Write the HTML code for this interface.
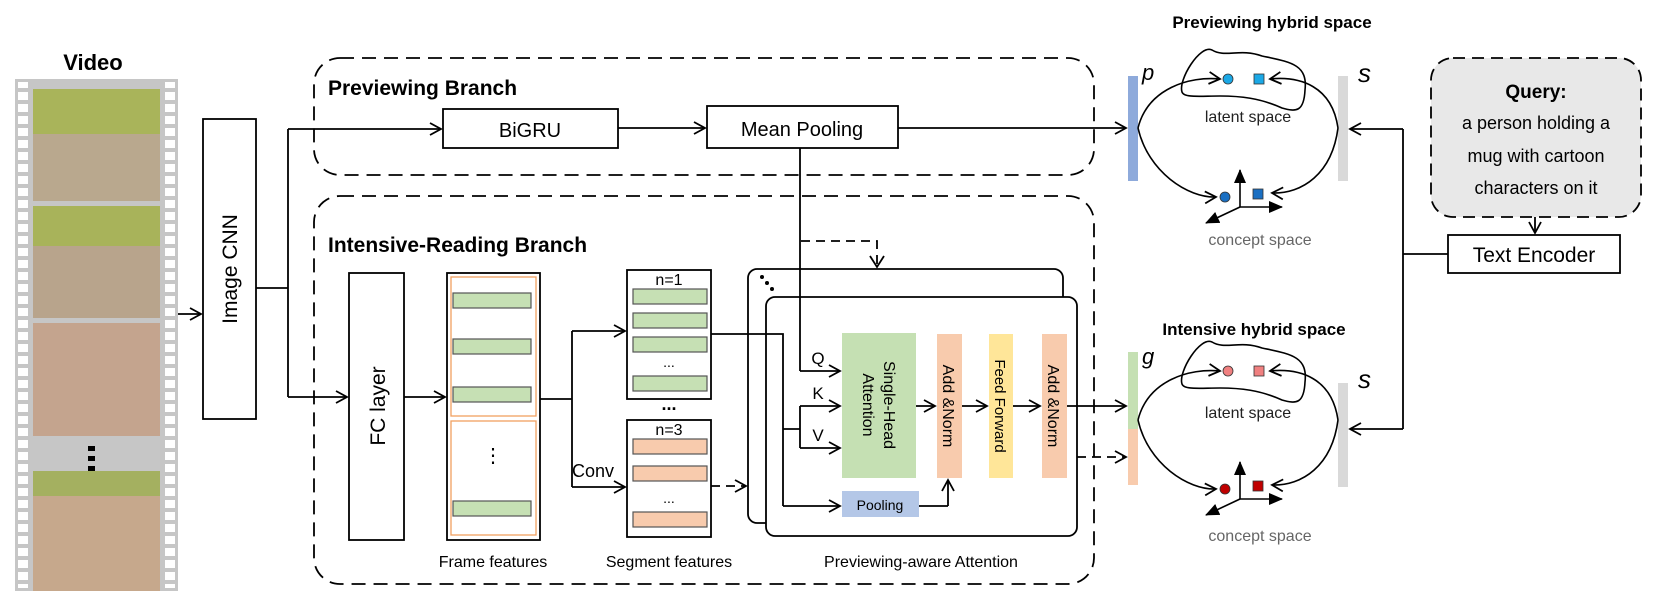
<!DOCTYPE html>
<html><head><meta charset="utf-8"><style>
html,body{margin:0;padding:0;background:#fff;}
svg{display:block;font-family:"Liberation Sans",Arial,sans-serif;}
</style></head><body>
<svg width="1660" height="607" viewBox="0 0 1660 607" xmlns="http://www.w3.org/2000/svg">
<defs>
<marker id="a" markerWidth="14" markerHeight="14" refX="12" refY="7" orient="auto" markerUnits="userSpaceOnUse"><path d="M1,1 L12,7 L1,13" fill="none" stroke="#000" stroke-width="1.8"/></marker>
<marker id="t" markerWidth="16" markerHeight="16" refX="13" refY="8" orient="auto" markerUnits="userSpaceOnUse"><path d="M0,2 L14,8 L0,14 Z" fill="#000"/></marker>
</defs>
<rect x="15" y="79" width="163" height="512" fill="#c6c6c6"/>
<rect x="18" y="82" width="10" height="506" fill="#fff"/>
<rect x="165" y="82" width="10" height="506" fill="#fff"/>
<g stroke="#c6c6c6" stroke-width="4">
<path d="M16,90 H30 M16,102 H30 M16,114 H30 M16,126 H30 M16,138 H30 M16,150 H30 M16,162 H30 M16,174 H30 M16,186 H30 M16,198 H30 M16,210 H30 M16,222 H30 M16,234 H30 M16,246 H30 M16,258 H30 M16,270 H30 M16,282 H30 M16,294 H30 M16,306 H30 M16,318 H30 M16,330 H30 M16,342 H30 M16,354 H30 M16,366 H30 M16,378 H30 M16,390 H30 M16,402 H30 M16,414 H30 M16,426 H30 M16,438 H30 M16,450 H30 M16,462 H30 M16,474 H30 M16,486 H30 M16,498 H30 M16,510 H30 M16,522 H30 M16,534 H30 M16,546 H30 M16,558 H30 M16,570 H30 M16,582 H30"/>
<path d="M163,90 H177 M163,102 H177 M163,114 H177 M163,126 H177 M163,138 H177 M163,150 H177 M163,162 H177 M163,174 H177 M163,186 H177 M163,198 H177 M163,210 H177 M163,222 H177 M163,234 H177 M163,246 H177 M163,258 H177 M163,270 H177 M163,282 H177 M163,294 H177 M163,306 H177 M163,318 H177 M163,330 H177 M163,342 H177 M163,354 H177 M163,366 H177 M163,378 H177 M163,390 H177 M163,402 H177 M163,414 H177 M163,426 H177 M163,438 H177 M163,450 H177 M163,462 H177 M163,474 H177 M163,486 H177 M163,498 H177 M163,510 H177 M163,522 H177 M163,534 H177 M163,546 H177 M163,558 H177 M163,570 H177 M163,582 H177"/>
</g>
<rect x="33" y="89" width="127" height="112" fill="#b9a88e"/>
<rect x="33" y="89" width="127" height="45" fill="#a9b45a"/>
<rect x="33" y="206" width="127" height="112" fill="#b8a48c"/>
<rect x="33" y="206" width="127" height="40" fill="#a8b35a"/>
<rect x="33" y="323" width="127" height="113" fill="#c4a48e"/>
<rect x="33" y="471" width="127" height="120" fill="#c6a88c"/>
<rect x="33" y="471" width="127" height="25" fill="#a4b060"/>
<g fill="#000"><rect x="88" y="446" width="7" height="5"/><rect x="88" y="456" width="7" height="5"/><rect x="88" y="466" width="7" height="5"/></g>
<text x="93" y="70" font-size="22" font-weight="bold" text-anchor="middle">Video</text>

<g stroke="#000" stroke-width="1.8" fill="none">
<rect x="203" y="119" width="53" height="300" fill="#fff"/>
<line x1="178" y1="314" x2="201" y2="314" marker-end="url(#a)"/>
<path d="M256,288 H288 M288,129 V397"/>
<line x1="288" y1="129" x2="441" y2="129" marker-end="url(#a)"/>
<line x1="288" y1="397" x2="347" y2="397" marker-end="url(#a)"/>
<rect x="314" y="58" width="780" height="117" rx="26" stroke-dasharray="14,8"/>
<rect x="314" y="196" width="780" height="388" rx="26" stroke-dasharray="14,8"/>
<rect x="443" y="109" width="175" height="39" fill="#fff"/>
<rect x="707" y="106" width="191" height="42" fill="#fff"/>
<line x1="618" y1="128" x2="705" y2="128" marker-end="url(#a)"/>
<line x1="898" y1="128" x2="1126" y2="128" marker-end="url(#a)"/>
<path d="M801,241 H877 V266" stroke-dasharray="9,6"/>
<path d="M870,256 L877,267 L884,256"/>
<rect x="349" y="273" width="55" height="267" fill="#fff"/>
<line x1="404" y1="397" x2="445" y2="397" marker-end="url(#a)"/>
<rect x="447" y="273" width="93" height="267" fill="#fff"/>
<rect x="451" y="277" width="85" height="139" stroke="#f0a060" stroke-width="1.3"/>
<rect x="451" y="421" width="85" height="114" stroke="#f0a060" stroke-width="1.3"/>
<g fill="#c6e0b4" stroke="#555" stroke-width="1.2">
<rect x="453" y="293" width="78" height="15"/><rect x="453" y="339" width="78" height="15"/><rect x="453" y="387" width="78" height="15"/><rect x="453" y="501" width="78" height="15"/>
</g>
<path d="M540,399 H572 M572,331 V487"/>
<line x1="572" y1="331" x2="625" y2="331" marker-end="url(#a)"/>
<line x1="572" y1="487" x2="625" y2="487" marker-end="url(#a)"/>
<rect x="627" y="270" width="84" height="129" fill="#fff"/>
<rect x="627" y="420" width="84" height="117" fill="#fff"/>
<g fill="#c6e0b4" stroke="#555" stroke-width="1.2">
<rect x="633" y="289" width="74" height="15"/><rect x="633" y="313" width="74" height="15"/><rect x="633" y="337" width="74" height="15"/><rect x="633" y="376" width="74" height="15"/>
</g>
<g fill="#f8cbad" stroke="#555" stroke-width="1.2">
<rect x="633" y="439" width="74" height="15"/><rect x="633" y="466" width="74" height="15"/><rect x="633" y="512" width="74" height="15"/>
</g>
<rect x="748" y="269" width="315" height="254" rx="9" fill="#fff"/>
<rect x="766" y="297" width="311" height="239" rx="9" fill="#fff"/>
<line x1="711" y1="486" x2="746" y2="486" stroke-dasharray="9,6" marker-end="url(#a)"/>
<path d="M711,334 H783 V506"/>
<line x1="783" y1="506" x2="840" y2="506" marker-end="url(#a)"/>
<path d="M783,429 H800 M800,406 V448"/>
<line x1="800" y1="406" x2="840" y2="406" marker-end="url(#a)"/>
<line x1="800" y1="448" x2="840" y2="448" marker-end="url(#a)"/>
<line x1="800" y1="148" x2="800" y2="371"/>
<line x1="800" y1="371" x2="840" y2="371" marker-end="url(#a)"/>
<rect x="842" y="333" width="74" height="145" fill="#c5e0b3" stroke="none"/>
<rect x="937" y="334" width="25" height="144" fill="#f8cbad" stroke="none"/>
<rect x="989" y="334" width="24" height="144" fill="#ffe699" stroke="none"/>
<rect x="1042" y="334" width="25" height="144" fill="#f8cbad" stroke="none"/>
<rect x="842" y="491" width="77" height="26" fill="#b4c7e7" stroke="none"/>
<line x1="916" y1="406" x2="935" y2="406" marker-end="url(#a)"/>
<line x1="962" y1="406" x2="987" y2="406" marker-end="url(#a)"/>
<line x1="1013" y1="406" x2="1040" y2="406" marker-end="url(#a)"/>
<path d="M919,506 H948"/>
<line x1="948" y1="506" x2="948" y2="480" marker-end="url(#a)"/>
<line x1="1067" y1="406" x2="1126" y2="406" marker-end="url(#a)"/>
<line x1="1077" y1="457" x2="1126" y2="457" stroke-dasharray="9,6" marker-end="url(#a)"/>
</g>
<g fill="#000"><circle cx="762" cy="277" r="2"/><circle cx="767" cy="283" r="2"/><circle cx="772" cy="289" r="2"/></g>

<text transform="translate(237,269) rotate(-90)" font-size="21" text-anchor="middle">Image CNN</text>
<text transform="translate(385,406) rotate(-90)" font-size="21" text-anchor="middle">FC layer</text>
<text x="328" y="95" font-size="21" font-weight="bold">Previewing Branch</text>
<text x="328" y="252" font-size="21" font-weight="bold">Intensive-Reading Branch</text>
<text x="530" y="137" font-size="20" text-anchor="middle">BiGRU</text>
<text x="802" y="136" font-size="20" text-anchor="middle">Mean Pooling</text>
<text x="493" y="462" font-size="20" text-anchor="middle">⋮</text>
<text x="669" y="285" font-size="16" text-anchor="middle">n=1</text>
<text x="669" y="367" font-size="14" text-anchor="middle">...</text>
<text x="669" y="410" font-size="18" text-anchor="middle" font-weight="bold">...</text>
<text x="669" y="435" font-size="16" text-anchor="middle">n=3</text>
<text x="669" y="503" font-size="14" text-anchor="middle">...</text>
<text x="572" y="477" font-size="18">Conv</text>
<text x="493" y="567" font-size="16" text-anchor="middle">Frame features</text>
<text x="669" y="567" font-size="16" text-anchor="middle">Segment features</text>
<text x="921" y="567" font-size="16" text-anchor="middle">Previewing-aware Attention</text>
<text x="818" y="364" font-size="17" text-anchor="middle">Q</text>
<text x="818" y="399" font-size="17" text-anchor="middle">K</text>
<text x="818" y="441" font-size="17" text-anchor="middle">V</text>
<text transform="translate(880,405) rotate(90)" font-size="16" text-anchor="middle"><tspan x="0" dy="-4">Single-Head</tspan><tspan x="0" dy="21">Attention</tspan></text>
<text transform="translate(943,406) rotate(90)" font-size="16" text-anchor="middle">Add &amp;Norm</text>
<text transform="translate(995,406) rotate(90)" font-size="15" text-anchor="middle">Feed Forward</text>
<text transform="translate(1048,406) rotate(90)" font-size="16" text-anchor="middle">Add &amp;Norm</text>
<text x="880" y="510" font-size="14" text-anchor="middle">Pooling</text>

<text x="1272" y="28" font-size="17" font-weight="bold" text-anchor="middle">Previewing hybrid space</text>
<text x="1254" y="335" font-size="17" font-weight="bold" text-anchor="middle">Intensive hybrid space</text>
<rect x="1128" y="76" width="10" height="105" fill="#8eaadb"/>
<rect x="1338" y="76" width="10" height="105" fill="#d9d9d9"/>
<rect x="1128" y="352" width="10" height="77" fill="#c5e0b3"/>
<rect x="1128" y="429" width="10" height="56" fill="#f8cbad"/>
<rect x="1338" y="383" width="10" height="104" fill="#d9d9d9"/>
<text x="1142" y="80" font-size="22" font-style="italic">p</text>
<text x="1358" y="82" font-size="26" font-style="italic">s</text>
<text x="1142" y="364" font-size="22" font-style="italic">g</text>
<text x="1358" y="388" font-size="26" font-style="italic">s</text>

<g stroke="#000" stroke-width="1.6" fill="none">
<path d="M1182,92 C1178,80 1200,44 1212,50 C1225,58 1240,48 1262,56 C1290,62 1308,64 1305,90 C1304,112 1296,112 1282,108 C1260,98 1240,96 1220,96 C1200,96 1184,98 1182,92 Z"/>
<path d="M1138,128 C1148,88 1190,76 1220,79" marker-end="url(#a)"/>
<path d="M1138,128 C1148,172 1188,198 1216,197" marker-end="url(#a)"/>
<path d="M1338,128 C1332,86 1300,76 1270,79" marker-end="url(#a)"/>
<path d="M1338,128 C1332,174 1302,194 1272,193" marker-end="url(#a)"/>
<line x1="1240" y1="207" x2="1240" y2="170" marker-end="url(#t)"/>
<line x1="1240" y1="207" x2="1282" y2="207" marker-end="url(#t)"/>
<line x1="1240" y1="207" x2="1206" y2="223" marker-end="url(#t)"/>
</g>
<circle cx="1228" cy="79" r="5" fill="#1ba8e6" stroke="#333" stroke-width="0.8"/>
<rect x="1254" y="74" width="10" height="10" fill="#1ba8e6" stroke="#333" stroke-width="0.8"/>
<circle cx="1225" cy="197" r="5" fill="#1a6fc2" stroke="#333" stroke-width="0.8"/>
<rect x="1253" y="189" width="10" height="10" fill="#1a6fc2" stroke="#333" stroke-width="0.8"/>
<text x="1248" y="122" font-size="16" text-anchor="middle" fill="#222">latent space</text>
<text x="1260" y="245" font-size="16" text-anchor="middle" fill="#666">concept space</text>

<g transform="translate(0,292)">
<g stroke="#000" stroke-width="1.6" fill="none">
<path d="M1182,92 C1178,80 1200,44 1212,50 C1225,58 1240,48 1262,56 C1290,62 1308,64 1305,90 C1304,112 1296,112 1282,108 C1260,98 1240,96 1220,96 C1200,96 1184,98 1182,92 Z"/>
<path d="M1138,128 C1148,88 1190,76 1220,79" marker-end="url(#a)"/>
<path d="M1138,128 C1148,172 1188,198 1216,197" marker-end="url(#a)"/>
<path d="M1338,128 C1332,86 1300,76 1270,79" marker-end="url(#a)"/>
<path d="M1338,128 C1332,174 1302,194 1272,193" marker-end="url(#a)"/>
<line x1="1240" y1="207" x2="1240" y2="170" marker-end="url(#t)"/>
<line x1="1240" y1="207" x2="1282" y2="207" marker-end="url(#t)"/>
<line x1="1240" y1="207" x2="1206" y2="223" marker-end="url(#t)"/>
</g>
<circle cx="1228" cy="79" r="5" fill="#f08080" stroke="#333" stroke-width="0.8"/>
<rect x="1254" y="74" width="10" height="10" fill="#f08080" stroke="#333" stroke-width="0.8"/>
<circle cx="1225" cy="197" r="5" fill="#c00000" stroke="#333" stroke-width="0.8"/>
<rect x="1253" y="189" width="10" height="10" fill="#c00000" stroke="#333" stroke-width="0.8"/>
<text x="1248" y="126" font-size="16" text-anchor="middle" fill="#222">latent space</text>
<text x="1260" y="249" font-size="16" text-anchor="middle" fill="#666">concept space</text>
</g>

<g stroke="#000" stroke-width="1.8" fill="none">
<rect x="1431" y="58" width="210" height="159" rx="22" fill="#e8e8e8" stroke-dasharray="12,7"/>
<line x1="1535" y1="217" x2="1535" y2="233" marker-end="url(#a)"/>
<rect x="1448" y="235" width="172" height="38" fill="#fff"/>
<path d="M1448,254 H1403 M1403,129 V429"/>
<line x1="1403" y1="129" x2="1350" y2="129" marker-end="url(#a)"/>
<line x1="1403" y1="429" x2="1350" y2="429" marker-end="url(#a)"/>
</g>
<text x="1536" y="98" font-size="19" font-weight="bold" text-anchor="middle">Query:</text>
<text x="1536" y="129" font-size="18" text-anchor="middle">a person holding a</text>
<text x="1536" y="162" font-size="18" text-anchor="middle">mug with cartoon</text>
<text x="1536" y="194" font-size="18" text-anchor="middle">characters on it</text>
<text x="1534" y="262" font-size="21" text-anchor="middle">Text Encoder</text>
</svg>
</body></html>
